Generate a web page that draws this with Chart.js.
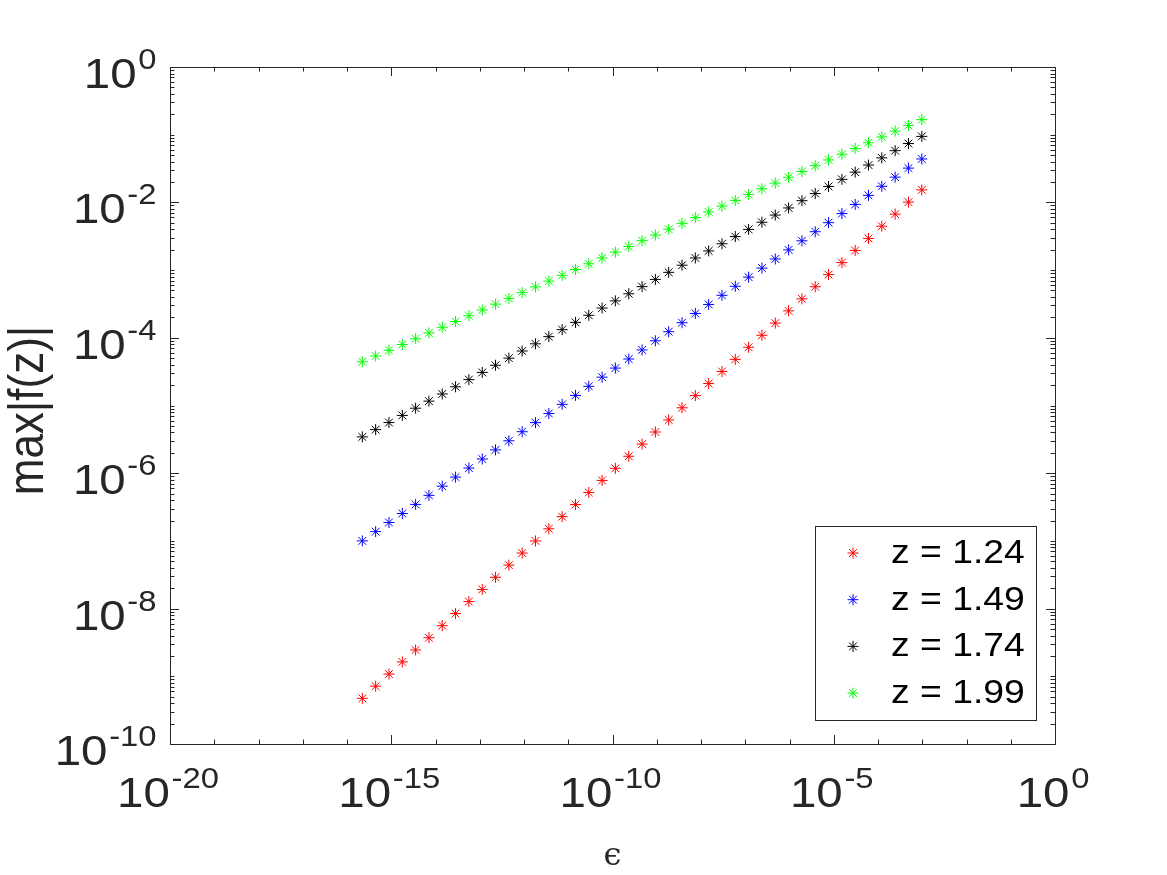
<!DOCTYPE html>
<html>
<head>
<meta charset="utf-8">
<script src="https://cdn.jsdelivr.net/npm/chart.js@4.4.1/dist/chart.umd.min.js"></script>
<style>
  html, body { margin: 0; padding: 0; background: #ffffff; }
  #wrap { width: 1167px; height: 875px; position: relative; }
</style>
</head>
<body>
<div id="wrap"><canvas id="chart"></canvas></div>
<script>
// --- Data ---
const epsValues = [
  2.22e-16, 4.44e-16, 8.88e-16, 1.78e-15, 3.55e-15, 7.11e-15, 1.42e-14, 2.84e-14,
  5.68e-14, 1.14e-13, 2.27e-13, 4.55e-13, 9.09e-13, 1.82e-12, 3.64e-12, 7.28e-12,
  1.46e-11, 2.91e-11, 5.82e-11, 1.16e-10, 2.33e-10, 4.66e-10, 9.31e-10, 1.86e-9,
  3.73e-9, 7.45e-9, 1.49e-8, 2.98e-8, 5.96e-8, 1.19e-7, 2.38e-7, 4.77e-7,
  9.54e-7, 1.91e-6, 3.81e-6, 7.63e-6, 1.53e-5, 3.05e-5, 6.10e-5, 1.22e-4,
  2.44e-4, 4.88e-4, 9.77e-4
];

const maxF124 = [
  4.73e-10, 7.14e-10, 1.08e-9, 1.63e-9, 2.45e-9, 3.71e-9, 5.60e-9, 8.45e-9,
  1.27e-8, 1.92e-8, 2.90e-8, 4.39e-8, 6.62e-8, 9.98e-8, 1.51e-7, 2.28e-7,
  3.44e-7, 5.19e-7, 7.82e-7, 1.18e-6, 1.78e-6, 2.69e-6, 4.06e-6, 6.12e-6,
  9.25e-6, 1.40e-5, 2.11e-5, 3.18e-5, 4.80e-5, 7.24e-5, 1.09e-4, 1.65e-4,
  2.50e-4, 3.76e-4, 5.68e-4, 8.57e-4, 1.29e-3, 1.95e-3, 2.94e-3, 4.45e-3,
  6.71e-3, 1.01e-2, 1.53e-2
];

const maxF149 = [
  1.00e-7, 1.37e-7, 1.87e-7, 2.54e-7, 3.46e-7, 4.71e-7, 6.43e-7, 8.75e-7,
  1.19e-6, 1.62e-6, 2.21e-6, 3.01e-6, 4.10e-6, 5.58e-6, 7.62e-6, 1.04e-5,
  1.41e-5, 1.92e-5, 2.62e-5, 3.57e-5, 4.86e-5, 6.62e-5, 9.04e-5, 1.23e-4,
  1.67e-4, 2.29e-4, 3.11e-4, 4.24e-4, 5.77e-4, 7.87e-4, 1.07e-3, 1.46e-3,
  1.99e-3, 2.71e-3, 3.69e-3, 5.02e-3, 6.84e-3, 9.33e-3, 1.27e-2, 1.73e-2,
  2.36e-2, 3.21e-2, 4.38e-2
];

const maxF174 = [
  3.44e-6, 4.40e-6, 5.60e-6, 7.14e-6, 9.12e-6, 1.16e-5, 1.48e-5, 1.89e-5,
  2.41e-5, 3.08e-5, 3.93e-5, 5.00e-5, 6.38e-5, 8.15e-5, 1.04e-4, 1.32e-4,
  1.69e-4, 2.15e-4, 2.75e-4, 3.51e-4, 4.47e-4, 5.70e-4, 7.28e-4, 9.27e-4,
  1.18e-3, 1.51e-3, 1.92e-3, 2.45e-3, 3.13e-3, 3.99e-3, 5.09e-3, 6.50e-3,
  8.28e-3, 1.06e-2, 1.35e-2, 1.72e-2, 2.19e-2, 2.80e-2, 3.56e-2, 4.55e-2,
  5.81e-2, 7.40e-2, 9.44e-2
];

const maxF199 = [
  4.42e-5, 5.37e-5, 6.53e-5, 7.96e-5, 9.68e-5, 1.18e-4, 1.43e-4, 1.74e-4,
  2.12e-4, 2.58e-4, 3.14e-4, 3.82e-4, 4.65e-4, 5.65e-4, 6.89e-4, 8.37e-4,
  1.02e-3, 1.24e-3, 1.51e-3, 1.84e-3, 2.23e-3, 2.72e-3, 3.30e-3, 4.02e-3,
  4.90e-3, 5.96e-3, 7.24e-3, 8.81e-3, 1.07e-2, 1.31e-2, 1.59e-2, 1.93e-2,
  2.35e-2, 2.86e-2, 3.48e-2, 4.24e-2, 5.15e-2, 6.27e-2, 7.62e-2, 9.29e-2,
  1.13e-1, 1.37e-1, 1.67e-1
];

const seriesLabels = ["z = 1.24", "z = 1.49", "z = 1.74", "z = 1.99"];
const seriesColors = ["#ff0000", "#0000ff", "#000000", "#00ff00"];

// axis ranges and labelled exponents
const xMinExp = -20, xMaxExp = 0;
const yMinExp = -10, yMaxExp = 0;
const xLabelExps = [-20, -15, -10, -5, 0];
const yLabelExps = [-10, -8, -6, -4, -2, 0];

const AXIS_COLOR = "#262626";
const SANS = "'Liberation Sans', Arial, Helvetica, sans-serif";
const STRETCH = 1.13; // the reference text is a bit wide

function toPoints(ys) {
  return epsValues.map((x, i) => ({ x, y: ys[i] }));
}

// draws a MATLAB-like asterisk marker
function drawStar(ctx, x, y, r, color) {
  ctx.save();
  ctx.strokeStyle = color;
  ctx.lineWidth = 1;
  ctx.beginPath();
  for (let k = 0; k < 4; k++) {
    const a = (k * Math.PI) / 4;
    ctx.moveTo(x - Math.cos(a) * r, y - Math.sin(a) * r);
    ctx.lineTo(x + Math.cos(a) * r, y + Math.sin(a) * r);
  }
  ctx.stroke();
  ctx.restore();
}

function powerLabel(ctx, exp, x, baseY, align) {
  const base = "10";
  const sup = exp < 0 ? "-" + Math.abs(exp) : String(exp);
  const gap = 1.5;
  ctx.save();
  ctx.font = "42px " + SANS;
  const wBase = ctx.measureText(base).width;
  ctx.font = "29px " + SANS;
  const wSup = ctx.measureText(sup).width;
  const total = wBase + gap + wSup;
  ctx.translate(x, baseY);
  ctx.scale(STRETCH, 1);
  const left = align === "center" ? -total / 2 : -total;
  ctx.textAlign = "left";
  ctx.textBaseline = "alphabetic";
  ctx.font = "42px " + SANS;
  ctx.fillText(base, left, 0);
  ctx.font = "29px " + SANS;
  ctx.fillText(sup, left + wBase + gap, -19);
  ctx.restore();
}

const axesPlugin = {
  id: "matlabAxes",
  afterDraw(chart) {
    const { ctx, chartArea: a, scales } = chart;
    const xs = scales.x, ys = scales.y;
    ctx.save();
    ctx.strokeStyle = AXIS_COLOR;
    ctx.fillStyle = AXIS_COLOR;
    ctx.lineWidth = 1;

    // box
    ctx.strokeRect(Math.round(a.left) + 0.5, Math.round(a.top) + 0.5,
      Math.round(a.right - a.left), Math.round(a.bottom - a.top));

    // x ticks (every decade, major on labelled ones)
    ctx.beginPath();
    for (let e = xMinExp; e <= xMaxExp; e++) {
      const px = Math.round(xs.getPixelForValue(Math.pow(10, e))) + 0.5;
      const len = xLabelExps.includes(e) ? 9 : 4.5;
      ctx.moveTo(px, a.bottom); ctx.lineTo(px, a.bottom - len);
      ctx.moveTo(px, a.top); ctx.lineTo(px, a.top + len);
    }
    // y ticks (1..9 x each decade)
    for (let e = yMinExp; e <= yMaxExp; e++) {
      for (let k = 1; k <= 9; k++) {
        const v = k * Math.pow(10, e);
        if (v > Math.pow(10, yMaxExp) * 1.0001) break;
        const py = Math.round(ys.getPixelForValue(v)) + 0.5;
        const len = k === 1 && yLabelExps.includes(e) ? 9 : 4.5;
        ctx.moveTo(a.left, py); ctx.lineTo(a.left + len, py);
        ctx.moveTo(a.right, py); ctx.lineTo(a.right - len, py);
      }
    }
    ctx.stroke();

    // tick labels
    xLabelExps.forEach((e) => {
      const px = xs.getPixelForValue(Math.pow(10, e));
      powerLabel(ctx, e, px - 2, a.bottom + 63, "center");
    });
    yLabelExps.forEach((e) => {
      const py = ys.getPixelForValue(Math.pow(10, e));
      powerLabel(ctx, e, 156.5, py + 21, "right");
    });

    // axis titles
    ctx.font = "32px 'DejaVu Serif', serif";
    ctx.textAlign = "center";
    ctx.textBaseline = "alphabetic";
    ctx.fillText("\u03F5", (a.left + a.right) / 2, 865);

    ctx.save();
    ctx.translate(43, (a.top + a.bottom) / 2 + 5);
    ctx.rotate(-Math.PI / 2);
    ctx.scale(1, STRETCH);
    ctx.font = "44px " + SANS;
    ctx.fillText("max|f(z)|", 0, 0);
    ctx.restore();

    // legend
    const lx = 815, ly = 526, lw = 221, lh = 194;
    ctx.fillStyle = "#ffffff";
    ctx.fillRect(lx, ly, lw, lh);
    ctx.strokeStyle = AXIS_COLOR;
    ctx.strokeRect(lx + 0.5, ly + 0.5, lw, lh);
    chart.data.datasets.forEach((ds, i) => {
      const cy = ly + 27 + i * 46.7;
      drawStar(ctx, lx + 38, cy, 5.5, ds.borderColor);
      ctx.save();
      ctx.translate(lx + 76, cy + 1);
      ctx.scale(STRETCH, 1);
      ctx.fillStyle = "#000000";
      ctx.font = "33px " + SANS;
      ctx.textAlign = "left";
      ctx.textBaseline = "middle";
      ctx.fillText(ds.label, 0, 0);
      ctx.restore();
    });
    ctx.restore();
  }
};

const datasets = [maxF124, maxF149, maxF174, maxF199].map((ys, i) => ({
  label: seriesLabels[i],
  data: toPoints(ys),
  showLine: false,
  pointStyle: "star",
  pointRadius: 5.5,
  pointBorderWidth: 1,
  borderColor: seriesColors[i],
  backgroundColor: seriesColors[i],
}));

new Chart(document.getElementById("chart"), {
  type: "scatter",
  data: { datasets },
  options: {
    responsive: true,
    maintainAspectRatio: false,
    animation: false,
    layout: { padding: { left: 170, top: 67, right: 112, bottom: 131 } },
    plugins: { legend: { display: false }, tooltip: { enabled: false } },
    scales: {
      x: {
        type: "logarithmic",
        display: false,
        min: Math.pow(10, xMinExp),
        max: Math.pow(10, xMaxExp),
      },
      y: {
        type: "logarithmic",
        display: false,
        min: Math.pow(10, yMinExp),
        max: Math.pow(10, yMaxExp),
      },
    },
  },
  plugins: [axesPlugin],
});
</script>
</body>
</html>
